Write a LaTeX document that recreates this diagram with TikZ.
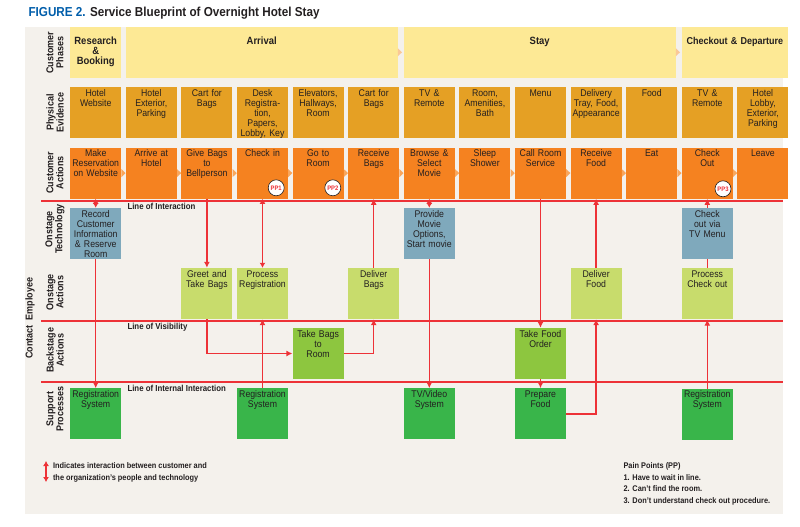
\documentclass[tikz,border=0pt]{standalone}
\usepackage{fontspec}
\setmainfont[FakeStretch=0.9]{Liberation Sans}
\usetikzlibrary{arrows.meta, positioning, calc}
\definecolor{panelgray}{RGB}{244,241,236}
\definecolor{phaseyellow}{RGB}{253,233,149}
\definecolor{evidorange}{RGB}{229,160,36}
\definecolor{actorange}{RGB}{245,130,32}
\definecolor{chevorange}{RGB}{249,166,92}
\definecolor{phasechev}{RGB}{250,200,150}
\definecolor{techblue}{RGB}{127,169,188}
\definecolor{onstgreen}{RGB}{200,220,108}
\definecolor{backgreen}{RGB}{141,198,63}
\definecolor{suppgreen}{RGB}{57,181,74}
\definecolor{blueprintred}{RGB}{237,50,55}
\definecolor{titleblue}{RGB}{0,93,170}
\definecolor{inkgray}{RGB}{35,31,32}

\begin{document}
\begin{tikzpicture}[
        node distance=9pt and 4.2pt,
        every node/.style={text=inkgray},
        box/.style={rectangle, inner sep=1pt, text width=49pt, text height=8pt, text depth=41pt, align=center, font={\fontsize{9.7}{10}\selectfont}},
        phase/.style={box, fill=phaseyellow, text height=16.5pt, text depth=32.5pt, font={\bfseries\fontsize{10.5}{10}\selectfont}},
        evid/.style={box, fill=evidorange},
        act/.style={box, fill=actorange},
        tech/.style={box, fill=techblue},
        onst/.style={box, fill=onstgreen},
        back/.style={box, fill=backgreen},
        supp/.style={box, fill=suppgreen},
        rowlabel/.style={rotate=90, align=center, font={\bfseries\fontsize{10}{10}\selectfont}},
        linelabel/.style={anchor=west, font={\bfseries\fontsize{8.7}{10}\selectfont}},
        notes/.style={anchor=north west, align=left, font={\bfseries\fontsize{8.2}{11.5}\selectfont}},
        sepline/.style={blueprintred, line width=1.6pt},
        flow/.style={blueprintred, line width=1.5pt, -{Latex[length=6pt,width=6pt]}},
        both/.style={blueprintred, line width=1.5pt, {Latex[length=5pt,width=6pt]}-{Latex[length=5pt,width=6pt]}},
        pp/.style={circle, draw=inkgray, fill=white, line width=0.6pt, minimum size=16pt, inner sep=0pt, text=blueprintred, font={\bfseries\fontsize{6.5}{6.5}\selectfont}}
    ]
        \useasboundingbox (0,0) rectangle (800pt,-527pt);
        \fill[panelgray] (25pt,-27pt) rectangle (783pt,-514pt);

        \node[anchor=west, font={\bfseries\fontsize{13}{15}\selectfont}] (title) at (25pt,-13pt) {\textcolor{titleblue}{FIGURE 2.} Service Blueprint of Overnight Hotel Stay};

        \node[evid, anchor=north west] (website) at (70pt,-87pt) {Hotel\\Website};
        \node[evid, right=of website] (exterior) {Hotel\\Exterior,\\Parking};
        \node[evid, right=of exterior] (cart) {Cart for\\Bags};
        \node[evid, right=of cart] (desk) {Desk\\Registra-\\tion,\\Papers,\\Lobby, Key};
        \node[evid, right=of desk] (elevators) {Elevators,\\Hallways,\\Room};
        \node[evid, right=of elevators] (cartb) {Cart for\\Bags};
        \node[evid, right=of cartb] (tv) {TV \&\\Remote};
        \node[evid, right=of tv] (amenities) {Room,\\Amenities,\\Bath};
        \node[evid, right=of amenities] (menu) {Menu};
        \node[evid, right=of menu] (tray) {Delivery\\Tray, Food,\\Appearance};
        \node[evid, right=of tray] (food) {Food};
        \node[evid, right=of food] (tvb) {TV \&\\Remote};
        \node[evid, right=of tvb] (lobby) {Hotel\\Lobby,\\Exterior,\\Parking};

        \node[phase, above=of website] (research) {Research\\\&\\Booking};
        \node[phase, text width=269.8pt, above right=9pt and 0pt of exterior.north west] (arrival) {Arrival};
        \node[phase, text width=269.8pt, above right=9pt and 0pt of tv.north west] (stay) {Stay};
        \node[phase, text width=104.2pt, font={\bfseries\fontsize{10}{10}\selectfont}, above right=9pt and 0pt of tvb.north west] (departure) {Checkout \& Departure};
        \fill[phasechev] ($(arrival.east)+(0,4pt)$) -- ($(arrival.east)+(4.2pt,0)$) -- ($(arrival.east)+(0,-4pt)$) -- cycle;
        \fill[phasechev] ($(stay.east)+(0,4pt)$) -- ($(stay.east)+(4.2pt,0)$) -- ($(stay.east)+(0,-4pt)$) -- cycle;

        \node[act, below=of website] (reserve) {Make\\Reservation\\on Website};
        \node[act, right=of reserve] (arrive) {Arrive at\\Hotel};
        \node[act, right=of arrive] (givebags) {Give Bags\\to\\Bellperson};
        \node[act, right=of givebags] (checkin) {Check in};
        \node[act, right=of checkin] (goroom) {Go to\\Room};
        \node[act, right=of goroom] (recbags) {Receive\\Bags};
        \node[act, right=of recbags] (browse) {Browse \&\\Select\\Movie};
        \node[act, right=of browse] (sleep) {Sleep\\Shower};
        \node[act, right=of sleep] (callrs) {Call Room\\Service};
        \node[act, right=of callrs] (recfood) {Receive\\Food};
        \node[act, right=of recfood] (eat) {Eat};
        \node[act, right=of eat] (chkout) {Check\\Out};
        \node[act, right=of chkout] (leave) {Leave};
        \foreach \n in {reserve, arrive, givebags, checkin, goroom, recbags, browse, sleep, callrs, recfood, eat, chkout}
            \fill[chevorange] ($(\n.east)+(0,4pt)$) -- ($(\n.east)+(4.2pt,0)$) -- ($(\n.east)+(0,-4pt)$) -- cycle;

        \node[tech, below=of reserve] (record) {Record\\Customer\\Information\\\& Reserve\\Room};
        \node[tech, below=of browse] (movie) {Provide\\Movie\\Options,\\Start movie};
        \node[tech, below=of chkout] (tvmenu) {Check\\out via\\TV Menu};

        \node[onst, below=69pt of givebags] (greet) {Greet and\\Take Bags};
        \node[onst, below=69pt of checkin] (procreg) {Process\\Registration};
        \node[onst, below=69pt of recbags] (delbags) {Deliver\\Bags};
        \node[onst, below=69pt of recfood] (delfood) {Deliver\\Food};
        \node[onst, below=of tvmenu] (procchk) {Process\\Check out};

        \node[back, below=129pt of goroom] (takebags) {Take Bags\\to\\Room};
        \node[back, below=129pt of callrs] (takeorder) {Take Food\\Order};

        \node[supp, below=129pt of record] (regsys1) {Registration\\System};
        \node[supp, below=69pt of procreg] (regsys2) {Registration\\System};
        \node[supp, below=129pt of movie] (tvsys) {TV/Video\\System};
        \node[supp, below=of takeorder] (prepfood) {Prepare\\Food};
        \node[supp, below=69pt of procchk] (regsys3) {Registration\\System};

        \node[rowlabel] (lblphases) at (55pt,-52.5pt) {Customer\\Phases};
        \node[rowlabel] (lblevid) at (55pt,-112.5pt) {Physical\\Evidence};
        \node[rowlabel] (lblact) at (55pt,-172.5pt) {Customer\\Actions};
        \node[rowlabel] (lbltech) at (55pt,-229pt) {Onstage\\Technology};
        \node[rowlabel] (lblonst) at (55pt,-292pt) {Onstage\\Actions};
        \node[rowlabel] (lblback) at (55pt,-350pt) {Backstage\\Actions};
        \node[rowlabel] (lblsupp) at (55pt,-409pt) {Support\\Processes};
        \node[rowlabel] (lblcontact) at (30pt,-318pt) {Contact\ \ Employee};

        \draw[sepline] (41pt,-201pt) -- (783pt,-201pt);
        \draw[sepline] (41pt,-321pt) -- (783pt,-321pt);
        \draw[sepline] (41pt,-382pt) -- (783pt,-382pt);
        \node[linelabel] (loi) at (124pt,-206.5pt) {Line of Interaction};
        \node[linelabel] (lov) at (124pt,-327pt) {Line of Visibility};
        \node[linelabel] (lii) at (124pt,-388pt) {Line of Internal Interaction};

        \draw[both] (reserve) -- (record);
        \draw[flow] (record) -- (regsys1);
        \draw[flow] (givebags) -- (greet);
        \draw[flow] (greet.south) |- (takebags);
        \draw[flow] (takebags) -| (delbags);
        \draw[flow] (delbags) -- (recbags);
        \draw[both] (checkin) -- (procreg);
        \draw[flow] (regsys2) -- (procreg);
        \draw[both] (browse) -- (movie);
        \draw[flow] (movie) -- (tvsys);
        \draw[flow] (callrs) -- (takeorder);
        \draw[flow] (takeorder) -- (prepfood);
        \draw[flow] (prepfood) -| (delfood);
        \draw[flow] (delfood) -- (recfood);
        \draw[flow] (tvmenu) -- (chkout);
        \draw[sepline] (tvmenu) -- (procchk);
        \draw[flow] (regsys3) -- (procchk);

        \node[pp] (pp1) at ($(checkin.south east)+(-12pt,11pt)$) {PP1};
        \node[pp] (pp2) at ($(goroom.south east)+(-11pt,11pt)$) {PP2};
        \node[pp] (pp3) at ($(chkout.south east)+(-10pt,10pt)$) {PP3};

        \coordinate (legtop) at (46pt,-461pt);
        \coordinate (legbot) at (46pt,-482pt);
        \draw[both] (legtop) -- (legbot);
        \node[notes] (legend) at (49.5pt,-459.5pt) {Indicates interaction between customer and\\the organization's people and technology};
        \node[notes] (painpoints) at (620pt,-459.5pt) {Pain Points (PP)\\1. Have to wait in line.\\2. Can't find the room.\\3. Don't understand check out procedure.};
    \end{tikzpicture}
\end{document}
